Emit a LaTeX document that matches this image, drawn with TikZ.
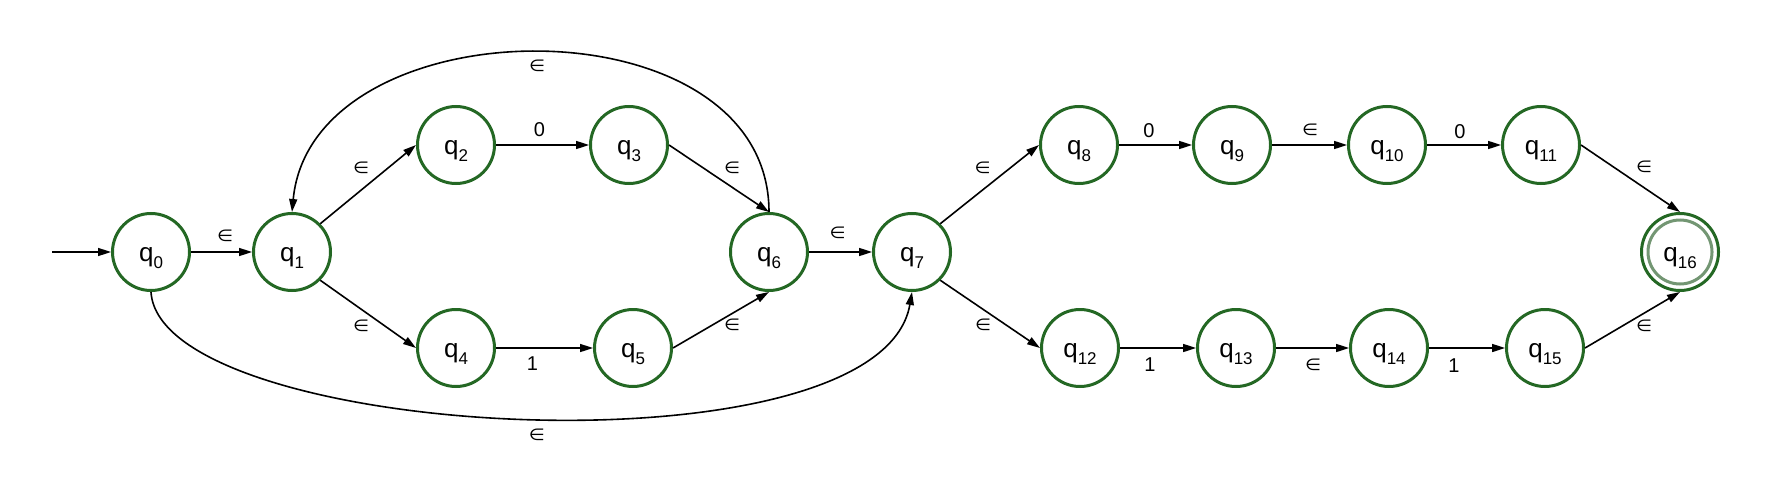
\documentclass[tikz,border=0pt]{standalone}
\usepackage{fontspec}
\setmainfont{Liberation Sans}
\newfontfamily\dvfont{DejaVu Sans}
\usepackage{graphicx}
\usetikzlibrary{arrows.meta}
\definecolor{stgreen}{RGB}{36,104,36}
\definecolor{ringgray}{RGB}{115,150,115}
\newcommand{\qsub}[1]{q\raisebox{-7.7pt}{\fontsize{17}{17}\selectfont #1}}
\newcommand{\epsym}{\resizebox{16pt}{11.5pt}{\dvfont ∈}}
\begin{document}
\begin{tikzpicture}[x=1pt,y=-1pt,
  state/.style={circle, draw=stgreen, line width=3pt, minimum size=77pt, inner sep=0pt,
    text height=20pt, text depth=2pt, font=\fontsize{26}{26}\selectfont},
  ring/.style={circle, draw=ringgray, line width=3pt, minimum size=64pt, inner sep=0pt},
  arr/.style={line width=1.6pt, -{Triangle[length=13pt,width=8pt]}},
  lab/.style={inner sep=0pt, font=\fontsize{20}{20}\selectfont}]
\useasboundingbox (0,0) rectangle (1782,484);
% states
\node[state] (q0) at (151,252) {\qsub{0}};
\node[state] (q1) at (292,252) {\qsub{1}};
\node[state] (q2) at (456,145) {\qsub{2}};
\node[state] (q3) at (629,145) {\qsub{3}};
\node[state] (q4) at (456,348) {\qsub{4}};
\node[state] (q5) at (633,348) {\qsub{5}};
\node[state] (q6) at (769,252) {\qsub{6}};
\node[state] (q7) at (912,252) {\qsub{7}};
\node[state] (q8) at (1079,145) {\qsub{8}};
\node[state] (q9) at (1232,145) {\qsub{9}};
\node[state] (q10) at (1387,145) {\qsub{10}};
\node[state] (q11) at (1541,145) {\qsub{11}};
\node[state] (q12) at (1080,348) {\qsub{12}};
\node[state] (q13) at (1236,348) {\qsub{13}};
\node[state] (q14) at (1389,348) {\qsub{14}};
\node[state] (q15) at (1545,348) {\qsub{15}};
\node[state] (q16) at (1680,252) {\qsub{16}};
\node[ring] (q16in) at (q16.center) {};
% start arrow
\coordinate (start) at (52,252);
\draw[arr] (start) -- (q0);
% transitions
\draw[arr] (q0) -- node[lab, shift={(3.5,-16)}] {\epsym} (q1);
\draw[arr] (q1.45) -- node[lab, shift={(-7,-17)}] {\epsym} (q2.west);
\draw[arr] (q1.-45) -- node[lab, shift={(-7,12)}] {\epsym} (q4.west);
\draw[arr] (q2) -- node[lab, shift={(-3,-15)}] {0} (q3);
\draw[arr] (q4) -- node[lab, shift={(-12,16)}] {1} (q5);
\draw[arr] (q3.east) -- node[lab, shift={(13,-11)}] {\epsym} (q6.north);
\draw[arr] (q5.east) -- node[lab, shift={(11,5)}] {\epsym} (q6.south);
\draw[arr] (q6) -- node[lab, shift={(-3,-19)}] {\epsym} (q7);
\draw[arr] (q6.north) .. controls +(0,-215) and +(20,-210) .. node[lab, pos=0.5, shift={(-1,13)}] {\epsym} (q1.north);
\draw[arr] (q0.south) .. controls +(9,148) and +(-32,188) .. node[lab, pos=0.5, shift={(14,17)}] {\epsym} (q7.south);
\draw[arr] (q7.45) -- node[lab, shift={(-7,-17)}] {\epsym} (q8.west);
\draw[arr] (q7.-45) -- node[lab, shift={(-7,11)}] {\epsym} (q12.west);
\draw[arr] (q8) -- node[lab, shift={(-6.5,-14)}] {0} (q9);
\draw[arr] (q9) -- node[lab, shift={(0.5,-15)}] {\epsym} (q10);
\draw[arr] (q10) -- node[lab, shift={(-4,-13)}] {0} (q11);
\draw[arr] (q11.east) -- node[lab, shift={(13.5,-11.5)}] {\epsym} (q16.north);
\draw[arr] (q12) -- node[lab, shift={(-8,17)}] {1} (q13);
\draw[arr] (q13) -- node[lab, shift={(0.5,17)}] {\epsym} (q14);
\draw[arr] (q14) -- node[lab, shift={(-13,18)}] {1} (q15);
\draw[arr] (q15.east) -- node[lab, shift={(11.5,5.5)}] {\epsym} (q16.south);
\end{tikzpicture}
\end{document}
